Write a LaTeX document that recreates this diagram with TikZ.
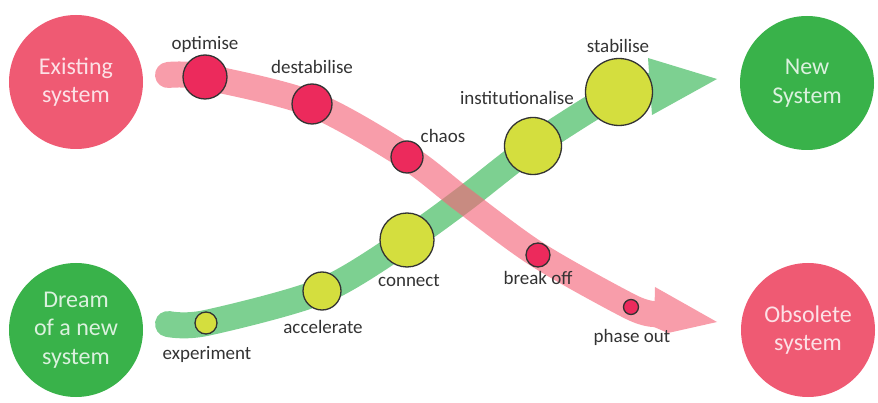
\documentclass[tikz,border=0pt]{standalone}
\usepackage{fontspec}
\setmainfont{Carlito}
\usetikzlibrary{positioning}

\definecolor{oldsysred}{HTML}{EF5A73}
\definecolor{newsysgreen}{HTML}{39B24A}
\definecolor{oldband}{HTML}{F46479}
\definecolor{newband}{HTML}{7DD091}
\definecolor{oldfill}{HTML}{EC2A5C}
\definecolor{newfill}{HTML}{D4DE3E}

\begin{document}
\begin{tikzpicture}[x=1pt, y=-1pt,
    bigcircle/.style={circle, minimum size=134pt, inner sep=0pt, align=center,
        font=\fontsize{24}{28.5}\selectfont},
    oldsys/.style={bigcircle, fill=oldsysred, text=white!82!oldsysred},
    newsys/.style={bigcircle, fill=newsysgreen, text=white!82!newsysgreen},
    band/.style={line width=26pt, line cap=round},
    olddot/.style={circle, draw=black!80, line width=1.3pt, inner sep=0pt, fill=oldfill},
    newdot/.style={circle, draw=black!80, line width=1.3pt, inner sep=0pt, fill=newfill},
    stepname/.style={anchor=base, inner sep=0pt, text=black!80,
        font=\fontsize{19}{22}\selectfont}
]
    \useasboundingbox (0,0) rectangle (878,403);

    % Systems
    \node[oldsys] (existing) at (76,82) {Existing\\system};
    \node[newsys] (newsystem) at (807,83) {New\\System};
    \node[newsys] (dream) at (76,330) {Dream\\of a new\\system};
    \node[oldsys] (obsolete) at (808,330) {Obsolete\\system};

    % Points along the declining path
    \coordinate (r0) at (168,75);
    \coordinate (r1) at (205,77);
    \coordinate (r2) at (312,104);
    \coordinate (r3) at (407,157);
    \coordinate (r4) at (463,200);
    \coordinate (r5) at (538,255);
    \coordinate (r6) at (631,307);
    \coordinate (rback) at (656,314);
    \coordinate (rtop) at (655,287);
    \coordinate (rtip) at (717,322);
    \coordinate (rlow) at (668,333);
    \coordinate (rend) at (654,327);

    % Points along the rising path
    \coordinate (g0) at (168,324);
    \coordinate (g1) at (206,323);
    \coordinate (g2) at (322,291);
    \coordinate (g3) at (407,240);
    \coordinate (g4) at (463,200);
    \coordinate (g5) at (533,146);
    \coordinate (g6) at (619,92);
    \coordinate (gback) at (650,86);
    \coordinate (gtop) at (648,58);
    \coordinate (gtip) at (717,79);
    \coordinate (glow) at (652,115);

    % Rising path
    \draw[band, newband] plot[smooth] coordinates {(g0) (g1) (g2) (g3) (g4) (g5) (g6) (gback)};
    \fill[newband] (gtop) -- (gtip) -- (glow) -- cycle;

    % Declining path
    \begin{scope}[transparency group, opacity=0.63]
        \draw[band, oldband] plot[smooth] coordinates {(r0) (r1) (r2) (r3) (r4) (r5) (r6) (rback)};
        \fill[oldband] (rtop) -- (rtip) -- (rlow) -- (rend) -- cycle;
    \end{scope}

    % Declining steps
    \node[olddot, minimum size=44pt] (optimise) at (r1) {};
    \node[olddot, minimum size=40pt] (destabilise) at (r2) {};
    \node[olddot, minimum size=32pt] (chaos) at (r3) {};
    \node[olddot, minimum size=24pt] (breakoff) at (r5) {};
    \node[olddot, minimum size=15pt] (phaseout) at (r6) {};

    % Rising steps
    \node[newdot, minimum size=22pt] (experiment) at (g1) {};
    \node[newdot, minimum size=38pt] (accelerate) at (g2) {};
    \node[newdot, minimum size=54pt] (connect) at (g3) {};
    \node[newdot, minimum size=57pt] (institution) at (g5) {};
    \node[newdot, minimum size=67pt] (stabilise) at (g6) {};

    % Step labels
    \node[stepname] at (205,50) {optimise};
    \node[stepname] at (312,74) {destabilise};
    \node[stepname] at (443,143) {chaos};
    \node[stepname] at (538,285) {break off};
    \node[stepname] at (632,342) {phase out};
    \node[stepname] at (207,359) {experiment};
    \node[stepname] at (323,334) {accelerate};
    \node[stepname] at (409,287) {connect};
    \node[stepname] at (517,105) {institutionalise};
    \node[stepname] at (618,53) {stabilise};
\end{tikzpicture}
\end{document}
